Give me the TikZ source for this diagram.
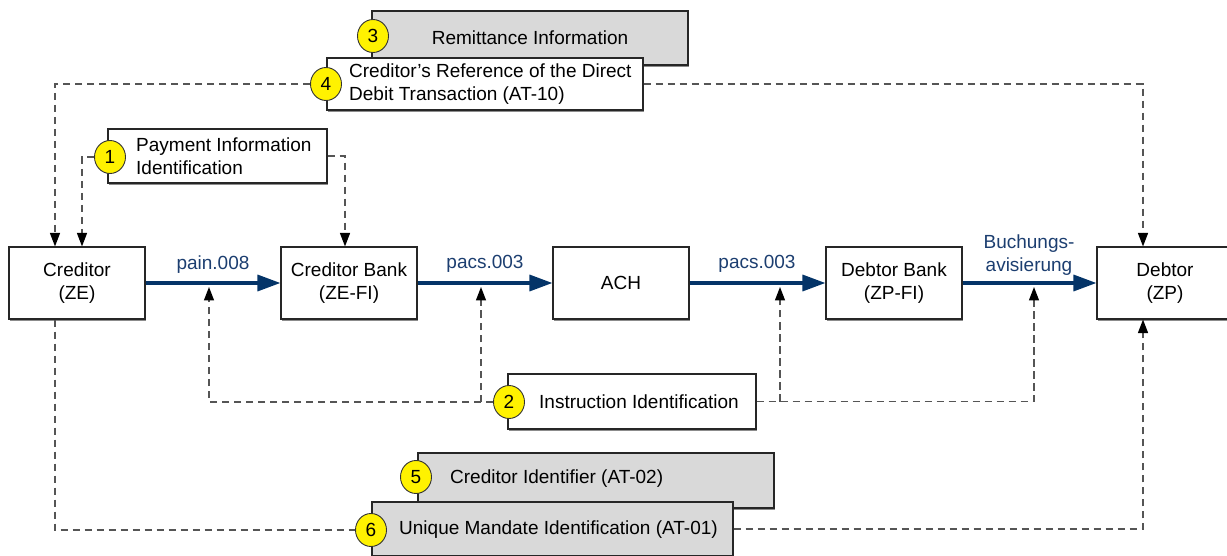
\documentclass[tikz,border=0pt]{standalone}
\usepackage{fontspec}
\setmainfont{Liberation Sans}
\usetikzlibrary{arrows.meta,shapes.geometric,shadows}
\definecolor{flowc}{RGB}{4,52,104}
\definecolor{labc}{RGB}{28,62,112}
\definecolor{boxgray}{RGB}{217,217,217}
\definecolor{dashc}{RGB}{85,85,85}
\begin{document}
\begin{tikzpicture}[x=1pt,y=-1pt,
  font=\fontsize{19}{23.5}\selectfont,
  shd/.style={drop shadow={shadow xshift=0.6pt,shadow yshift=-1.6pt,fill=black!45,opacity=1}},
  box/.style={draw=black!85, line width=1.1pt, fill=white, minimum width=136pt,
    minimum height=72pt, align=center, inner sep=0pt, shd},
  info/.style={draw=black!85, line width=1.1pt, inner sep=0pt, shd},
  txt/.style={anchor=west, align=left, inner sep=0pt},
  num/.style={ellipse, draw=black!80, line width=0.9pt, fill=yellow,
    minimum width=31pt, minimum height=33pt, inner sep=0pt},
  dline/.style={draw=dashc, line width=1.4pt, dash pattern=on 7.5pt off 4.5pt},
  dtip/.style={-{Triangle[length=13.5pt,width=10pt,color=black]}},
  flow/.style={draw=flowc, line width=3.3pt, -{Triangle[length=23pt,width=16pt]}},
  lab/.style={text=labc, align=center, inner sep=0pt}]
\useasboundingbox (0,0) rectangle (1227,556);

% main chain
\node[box] (cred)  at (77,283)   {Creditor\\(ZE)};
\node[box] (cbank) at (349,283)  {Creditor Bank\\(ZE-FI)};
\node[box] (ach)   at (621,283)  {ACH};
\node[box] (dbank) at (894,283)  {Debtor Bank\\(ZP-FI)};
\node[box] (deb)   at (1165,283) {Debtor\\(ZP)};

\draw[flow] (cred) -- (cbank);
\draw[flow] (cbank) -- (ach);
\draw[flow] (ach) -- (dbank);
\draw[flow] (dbank) -- (deb);

\node[lab] (l1) at (213,265) {pain.008};
\node[lab] (l2) at (485,264) {pacs.003};
\node[lab] (l3) at (757,264) {pacs.003};
\node[lab] (l4) at (1029,255) {Buchungs-\\avisierung};

% top info boxes
\node[info, fill=boxgray, minimum width=316pt, minimum height=54pt] (rem) at (530,38) {Remittance Information};
\node[num] (c3) at (373,36) {3};
\node[info, fill=white, minimum width=316pt, minimum height=52pt] (ref) at (485,84) {};
\node[txt] (reft) at (349,84) {Creditor’s Reference of the Direct\\Debit Transaction (AT-10)};
\node[num] (c4) at (326,84) {4};

\node[info, fill=white, minimum width=219pt, minimum height=54pt] (pii) at (217.5,156) {};
\node[txt] (piit) at (136,156) {Payment Information\\Identification};
\node[num] (c1) at (110,157) {1};

% instruction identification
\node[info, fill=white, minimum width=248pt, minimum height=55pt] (ins) at (632,401.5) {};
\node[txt] (inst) at (539,402) {Instruction Identification};
\node[num] (c2) at (509,402) {2};

% bottom info boxes
\node[info, fill=boxgray, minimum width=356pt, minimum height=55pt] (cid) at (596,480.5) {};
\node[txt] (cidt) at (450,479) {Creditor Identifier (AT-02)};
\node[info, fill=boxgray, minimum width=361pt, minimum height=54pt] (umi) at (552.5,529) {};
\node[txt] (umit) at (399,530) {Unique Mandate Identification (AT-01)};
\node[num] (c5) at (416,477) {5};
\node[num] (c6) at (371,530) {6};

% helper coordinates
\coordinate (x55) at (55,0);
\coordinate (x82) at (82,0);
\coordinate (x345) at (345,0);
\coordinate (x1143) at (1143,0);
\coordinate (a1) at (209,287);
\coordinate (a2) at (481,287);
\coordinate (a3) at (780,287);
\coordinate (a4) at (1034,287);

% dashed connectors
\draw[dline,dtip] (c4.west) -| (cred.north -| x55);
\draw[dline,dtip] (ref.east) -| (deb.north -| x1143);
\draw[dline,dtip] (c1.west) -| (cred.north -| x82);
\draw[dline,dtip] (pii.east) -| (cbank.north -| x345);

\draw[dline,dtip] (c2.west) -| (a1);
\draw[dline,dtip] (a2 |- c2.west) -- (a2);
\draw[dline,dtip] (ins.east) -| (a4);
\draw[dline,dtip] (a3 |- ins.east) -- (a3);

\draw[dline] (cred.south -| x55) |- (c6.west);
\draw[dline,dtip] (umi.east) -| (deb.south -| x1143);
\end{tikzpicture}
\end{document}
